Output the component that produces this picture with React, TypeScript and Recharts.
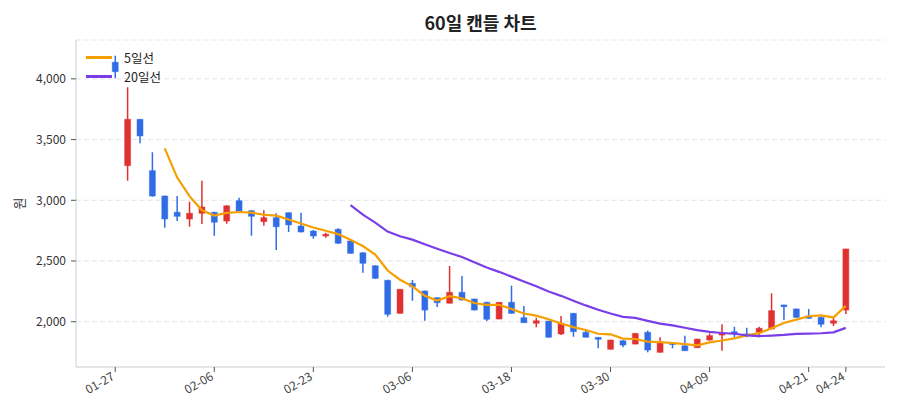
import React from 'react';
import { ComposedChart, Bar, Line, XAxis, YAxis, CartesianGrid } from 'recharts';

const dates = [
  '01-27', '01-28', '01-29', '01-30', '01-31', '02-03', '02-04', '02-05', '02-06', '02-07',
  '02-10', '02-12', '02-13', '02-14', '02-17', '02-20', '02-23', '02-24', '02-25', '02-26',
  '02-27', '02-28', '03-04', '03-05', '03-06', '03-07', '03-10', '03-11', '03-12', '03-13',
  '03-14', '03-17', '03-18', '03-19', '03-20', '03-21', '03-24', '03-25', '03-26', '03-27',
  '03-30', '03-31', '04-01', '04-02', '04-03', '04-04', '04-07', '04-08', '04-09', '04-10',
  '04-11', '04-14', '04-15', '04-16', '04-17', '04-18', '04-21', '04-22', '04-23', '04-24',
];

const opens = [
  4137, 3285, 3667, 3244, 3035, 2901, 2846, 2893, 2901, 2829,
  2997, 2914, 2824, 2857, 2898, 2788, 2747, 2706, 2761, 2665,
  2568, 2461, 2341, 2069, 2316, 2253, 2198, 2152, 2242, 2187,
  2160, 2022, 2160, 2033, 1987, 2005, 1899, 2069, 1913, 1871,
  1773, 1843, 1816, 1913, 1748, 1822, 1802, 1786, 1849, 1890,
  1918, 1899, 1913, 1940, 2138, 2105, 2047, 2036, 1987, 2096,
];
const highs = [
  4191, 3931, 3670, 3395, 3040, 3035, 2988, 3161, 2905, 2960,
  3021, 2920, 2918, 2893, 2900, 2898, 2755, 2733, 2769, 2670,
  2572, 2465, 2345, 2270, 2343, 2258, 2200, 2459, 2376, 2190,
  2165, 2163, 2297, 2129, 2033, 2008, 2048, 2072, 1926, 1873,
  1853, 1848, 1906, 1926, 1871, 1826, 1885, 1860, 1904, 1979,
  1959, 1951, 1959, 2234, 2140, 2108, 2105, 2040, 2036, 2600,
];
const lows = [
  4005, 3161, 3469, 3030, 2774, 2829, 2782, 2805, 2708, 2807,
  2900, 2708, 2791, 2591, 2739, 2735, 2684, 2692, 2640, 2560,
  2404, 2352, 2041, 2065, 2173, 2008, 2121, 2150, 2175, 2093,
  2006, 2020, 2066, 1990, 1954, 1868, 1890, 1876, 1870, 1781,
  1770, 1789, 1813, 1748, 1745, 1781, 1758, 1783, 1845, 1761,
  1872, 1872, 1872, 1937, 2014, 2033, 2025, 1954, 1965, 2063,
];
const closes = [
  4059, 3667, 3530, 3035, 2846, 2868, 2893, 2945, 2819, 2955,
  2906, 2868, 2857, 2782, 2797, 2739, 2706, 2720, 2646, 2563,
  2481, 2357, 2061, 2267, 2288, 2096, 2156, 2242, 2179, 2096,
  2020, 2160, 2069, 1992, 2008, 1872, 1987, 1918, 1872, 1855,
  1849, 1808, 1904, 1767, 1830, 1814, 1761, 1857, 1885, 1909,
  1899, 1888, 1946, 2091, 2124, 2036, 2028, 1979, 2008, 2599,
];

const tickDates = ['01-27', '02-06', '02-23', '03-06', '03-18', '03-30', '04-09', '04-21', '04-24'];
const yTicks = [2000, 2500, 3000, 3500, 4000];

const UP = '#e03131';
const DOWN = '#2f6ce5';
const MA5_COLOR = '#f59f00';
const MA20_COLOR = '#7a3ee8';
const FONT = '"Noto Sans CJK KR", "Noto Sans", sans-serif';

// rolling mean of closing prices
const movingAvg = (n: number) =>
  closes.map((_, i) => {
    if (i < n - 1) return null;
    let s = 0;
    for (let k = i - n + 1; k <= i; k++) s += closes[k];
    return s / n;
  });

const ma5 = movingAvg(5);
const ma20 = movingAvg(20);

const data = dates.map((date, i) => ({
  date,
  open: opens[i],
  high: highs[i],
  low: lows[i],
  close: closes[i],
  range: [lows[i], highs[i]],
  ma5: ma5[i],
  ma20: ma20[i],
}));

const Candle = (props: any) => {
  const { x, y, width, height, payload } = props;
  if (!payload) return null;
  const { open, close, high, low } = payload;
  const top = Math.min(y, y + height);
  const h = Math.abs(height);
  const k = high > low ? h / (high - low) : 0;
  const cx = x + width / 2;
  const color = close >= open ? UP : DOWN;
  let bTop = top + (high - Math.max(open, close)) * k;
  let bH = Math.abs(open - close) * k;
  if (bH < 1.5) {
    bTop -= (1.5 - bH) / 2;
    bH = 1.5;
  }
  const bw = 6;
  return (
    <g>
      <line x1={cx} x2={cx} y1={top} y2={top + h} stroke={color} strokeWidth={1.5} />
      <rect x={cx - bw / 2} y={bTop} width={bw} height={bH} fill={color} stroke={color} strokeOpacity={0.45} strokeWidth={1} />
    </g>
  );
};

const DateTick = ({ x, y, payload }: any) => (
  <g transform={`translate(${x - 4},${y - 2})`}>
    <text x={0} y={0} dy={8} textAnchor="end" transform="rotate(-30)" fontSize={12} fill="#444" fontFamily={FONT}>
      {payload.value}
    </text>
  </g>
);

const YLabel = ({ viewBox }: any) => {
  const cx = 18;
  const cy = viewBox.y + viewBox.height / 2;
  return (
    <text x={cx} y={cy} transform={`rotate(-90, ${cx}, ${cy})`} textAnchor="middle" dominantBaseline="central" fontSize={13} fill="#333" fontFamily={FONT}>
      원
    </text>
  );
};

const legendItems = [
  { name: '5일선', color: MA5_COLOR },
  { name: '20일선', color: MA20_COLOR },
];

export default function App() {
  return (
    <div style={{ position: 'absolute', left: 0, top: 0, width: 900, height: 420, background: '#fff', fontFamily: FONT }}>
      <div style={{ position: 'absolute', left: 76, width: 809, top: 9, textAlign: 'center', fontSize: 18, fontWeight: 700, color: '#222' }}>
        60일 캔들 차트
      </div>
      <ComposedChart width={900} height={420} data={data} margin={{ top: 40, right: 15, left: 26, bottom: 8 }}>
        <CartesianGrid vertical={false} stroke="#e4e4e4" strokeDasharray="5 3" />
        <XAxis
          dataKey="date"
          type="category"
          ticks={tickDates}
          interval={0}
          height={45}
          padding={{ left: 33, right: 33 }}
          tick={<DateTick />}
          tickSize={5}
          axisLine={{ stroke: '#dde0e5', strokeWidth: 1.5 }}
          tickLine={{ stroke: '#555' }}
        />
        <YAxis
          domain={[1627, 4320]}
          ticks={yTicks}
          allowDataOverflow
          width={50}
          tickSize={5}
          tickMargin={5}
          tick={{ fontSize: 12, fill: '#333', fontFamily: FONT }}
          tickFormatter={(v) => Number(v).toLocaleString('en-US')}
          axisLine={{ stroke: '#dde0e5', strokeWidth: 1.5 }}
          tickLine={{ stroke: '#555' }}
          label={<YLabel />}
        />
        <Bar dataKey="range" shape={<Candle />} isAnimationActive={false} />
        <Line dataKey="ma5" stroke={MA5_COLOR} strokeWidth={2.2} dot={false} activeDot={false} connectNulls={false} isAnimationActive={false} />
        <Line dataKey="ma20" stroke={MA20_COLOR} strokeWidth={2.2} dot={false} activeDot={false} connectNulls={false} isAnimationActive={false} />
      </ComposedChart>
      <div style={{ position: 'absolute', left: 86, top: 48, fontSize: 12.5, color: '#222', lineHeight: '19px' }}>
        {legendItems.map((it) => (
          <div key={it.name} style={{ display: 'flex', alignItems: 'center' }}>
            <span style={{ display: 'inline-block', width: 26, height: 2.5, background: it.color, marginRight: 12 }} />
            <span>{it.name}</span>
          </div>
        ))}
      </div>
    </div>
  );
}
